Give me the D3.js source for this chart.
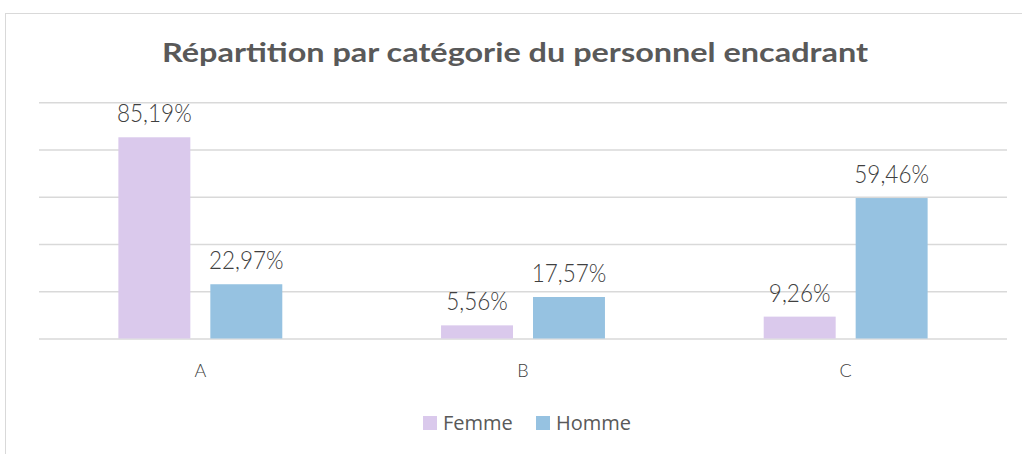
<!DOCTYPE html>
<html>
<head>
<meta charset="utf-8">
<script src="https://cdn.jsdelivr.net/npm/d3@7"></script>
<style>
  body { margin: 0; background: #fff; }
  svg { display: block; }
</style>
</head>
<body>
<div id="main"></div>
<script>
var categories = ["A", "B", "C"];
var series = ["Femme", "Homme"];
var femmeValues = [85.19, 5.56, 9.26];
var hommeValues = [22.97, 17.57, 59.46];
var yTicks = [0, 20, 40, 60, 80, 100];
var chartTitle = "Répartition par catégorie du personnel encadrant";

var colors = { Femme: "#dac9ec", Homme: "#96c2e1" };

var width = 1022, height = 454;
var margin = { left: 39, right: 15, top: 102.3, bottom: 115.5 };

var svg = d3.select("#main")
    .append("svg")
    .attr("width", width)
    .attr("height", height);

// chart frame
svg.append("rect")
    .attr("x", 5.5)
    .attr("y", 13.5)
    .attr("width", width + 10)
    .attr("height", height + 10)
    .attr("fill", "#fff")
    .attr("stroke", "#d9d9d9")
    .attr("stroke-width", 1);

var x0 = d3.scaleBand()
    .domain(categories)
    .range([margin.left, width - margin.right])
    .padding(0);

var groupW = x0.bandwidth() * 0.508;
var x1 = d3.scaleBand()
    .domain(series)
    .range([(x0.bandwidth() - groupW) / 2, (x0.bandwidth() + groupW) / 2])
    .paddingInner(0.2174);

var y = d3.scaleLinear()
    .domain([0, 100])
    .range([height - margin.bottom, margin.top]);

// gridlines
svg.append("g")
    .attr("transform", "translate(" + margin.left + ",0)")
    .call(d3.axisLeft(y).tickValues(yTicks).tickSize(-(width - margin.left - margin.right)).tickFormat(""))
    .call(function(g) {
        g.select(".domain").remove();
        g.selectAll(".tick line").attr("stroke", "#d9d9d9").attr("stroke-width", 1.5);
    });

var rows = categories.map(function(c, i) {
    return { cat: c, values: [
        { key: "Femme", value: femmeValues[i] },
        { key: "Homme", value: hommeValues[i] }
    ] };
});

var groups = svg.selectAll("g.cat")
    .data(rows)
    .enter()
    .append("g")
    .attr("class", "cat")
    .attr("transform", function(d) { return "translate(" + x0(d.cat) + ",0)"; });

groups.selectAll("rect")
    .data(function(d) { return d.values; })
    .enter()
    .append("rect")
    .attr("x", function(d) { return x1(d.key); })
    .attr("width", x1.bandwidth())
    .attr("y", function(d) { return y(d.value); })
    .attr("height", function(d) { return y(0) - y(d.value); })
    .attr("fill", function(d) { return colors[d.key]; });

var fmt = function(v) { return v.toFixed(2).replace(".", ",") + "%"; };

// data labels, narrowed a bit to mimic the condensed look
groups.selectAll("text.lbl")
    .data(function(d) { return d.values; })
    .enter()
    .append("text")
    .attr("class", "lbl")
    .attr("x", function(d) { return x1(d.key) + x1.bandwidth() / 2; })
    .attr("y", function(d) { return y(d.value) - 15; })
    .attr("text-anchor", "middle")
    .attr("font-family", "Lato, 'DejaVu Sans', sans-serif")
    .attr("font-weight", 300)
    .attr("font-size", "25px")
    .attr("fill", "#404040")
    .text(function(d) { return fmt(d.value); })
    .each(function() {
        var w = this.getComputedTextLength();
        d3.select(this).attr("textLength", w * 0.9).attr("lengthAdjust", "spacingAndGlyphs");
    });

// category axis
svg.append("g")
    .attr("transform", "translate(0," + y(0) + ")")
    .call(d3.axisBottom(x0).tickSize(0).tickPadding(26))
    .call(function(g) {
        g.select(".domain").remove();
        g.selectAll("text")
            .attr("font-family", "Lato, 'DejaVu Sans', sans-serif")
            .attr("font-weight", 300)
            .attr("font-size", "18px")
            .attr("fill", "#404040");
    });

// title
svg.append("text")
    .attr("x", (width + 8) / 2)
    .attr("y", 62)
    .attr("text-anchor", "middle")
    .attr("font-family", "Lato, 'Open Sans', sans-serif")
    .attr("font-weight", "bold")
    .attr("font-size", "27px")
    .attr("fill", "#595959")
    .attr("textLength", 706)
    .attr("lengthAdjust", "spacingAndGlyphs")
    .text(chartTitle);

// legend
var legendX = [423, 536];
var legend = svg.selectAll("g.legend")
    .data(series)
    .enter()
    .append("g")
    .attr("class", "legend")
    .attr("transform", function(d, i) { return "translate(" + legendX[i] + ",416)"; });

legend.append("rect")
    .attr("width", 14)
    .attr("height", 14)
    .attr("fill", function(d) { return colors[d]; });

legend.append("text")
    .attr("x", 20)
    .attr("y", 14)
    .attr("font-family", "'Open Sans', sans-serif")
    .attr("font-size", "20px")
    .attr("fill", "#595959")
    .text(function(d) { return d; });
</script>
</body>
</html>
